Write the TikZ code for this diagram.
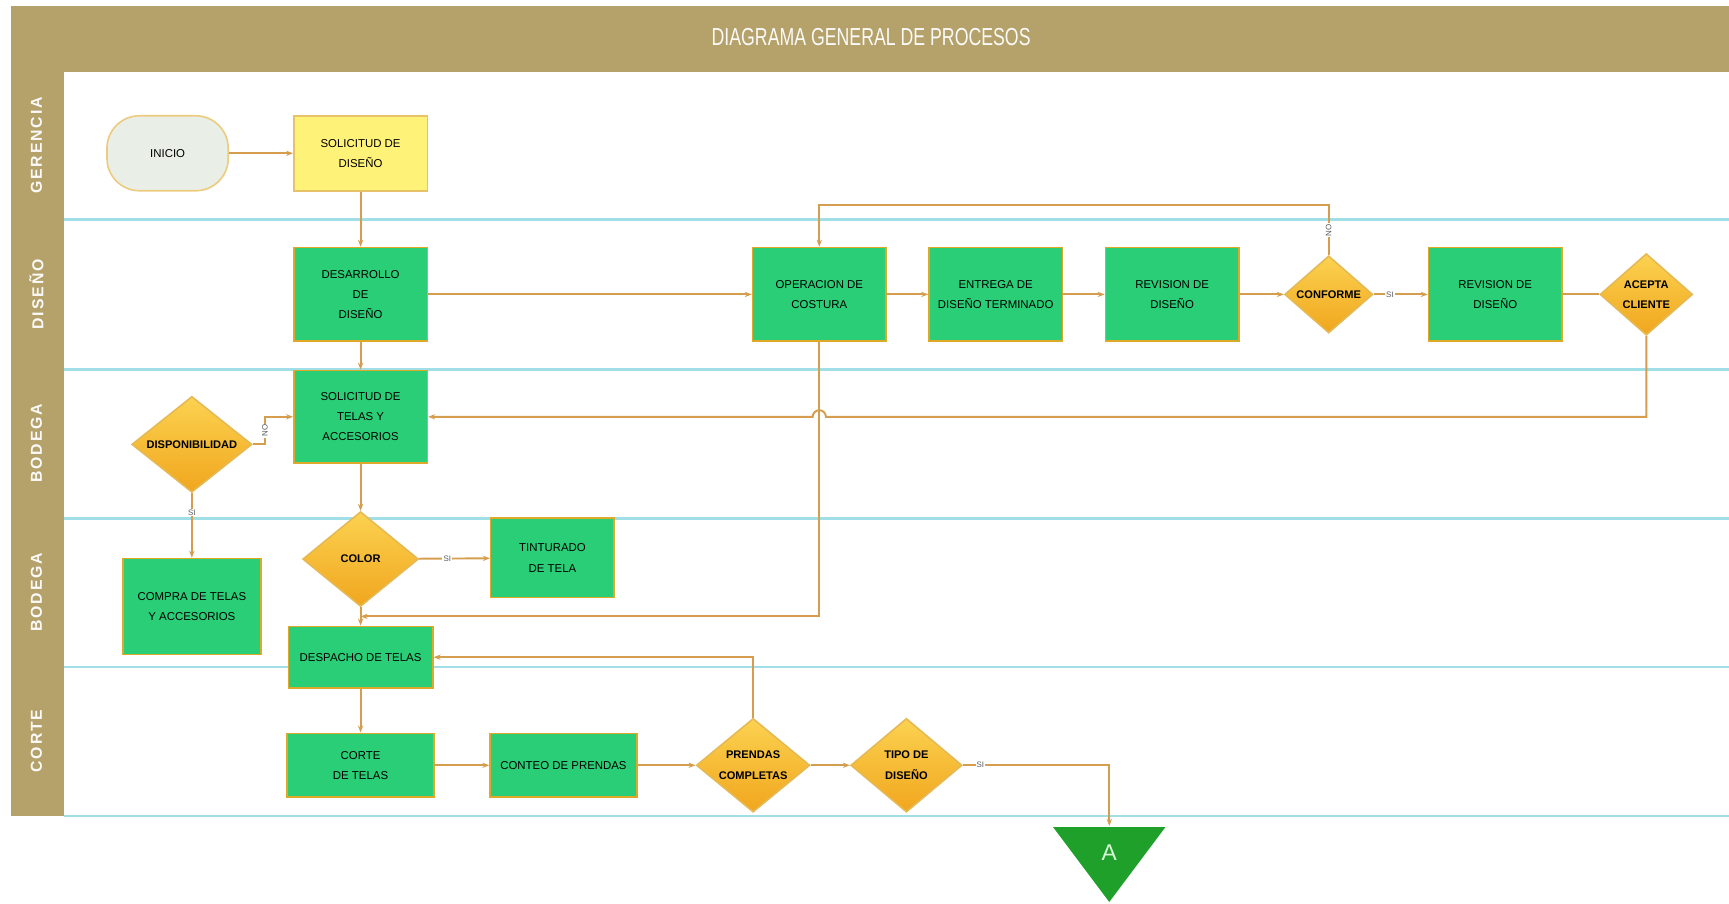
\documentclass[tikz,border=0pt]{standalone}
\usepackage{fontspec}
\setmainfont{Liberation Sans}
\usetikzlibrary{arrows.meta,shapes.geometric,calc}
\definecolor{banda}{RGB}{181,161,106}
\definecolor{linea}{RGB}{160,222,232}
\definecolor{verde}{RGB}{42,206,118}
\definecolor{borde}{RGB}{222,168,40}
\definecolor{amarillo}{RGB}{255,242,120}
\definecolor{gris}{RGB}{233,239,230}
\definecolor{rombotop}{RGB}{251,210,80}
\definecolor{rombobot}{RGB}{241,166,30}
\definecolor{conector}{RGB}{212,158,78}
\definecolor{verdeA}{RGB}{30,160,42}
\newcommand{\dpx}{0.22054mm}

\begin{document}
\begin{tikzpicture}[x=0.22054mm, y=-0.22054mm,
    tam/.style 2 args={minimum width=#1*\dpx, minimum height=#2*\dpx},
    proc/.style={draw=borde, line width=0.9pt, fill=verde, align=center, inner sep=1pt, font=\fontsize{6.5}{11.5}\selectfont},
    solic/.style={proc, fill=amarillo, draw=borde!70},
    term/.style={proc, fill=gris, draw=borde!60, rounded corners=6.5mm},
    dec/.style={diamond, draw=borde!80, line width=0.9pt, top color=rombotop, bottom color=rombobot, shape aspect=1.5, inner sep=0pt, align=center, font=\fontsize{6.3}{11.5}\selectfont\bfseries},
    carril/.style={rotate=90, text=white!95!banda, font=\fontsize{9}{9}\selectfont\bfseries\addfontfeature{LetterSpace=12}},
    lbl/.style={fill=white, inner sep=0.6pt, text=black!65, font=\fontsize{4.5}{5}\selectfont},
    con/.style={draw=conector, line width=1.1pt, -{Stealth[length=4pt, width=3pt]}},
    lin/.style={draw=conector, line width=1.1pt}
]
\useasboundingbox (0,0) rectangle (1568,819);
\fill[banda] (10,5) rectangle (1568,65);
\fill[banda] (10,65) rectangle (58,740);
\foreach \y in {199,335,470,605,740}
    \draw[linea, line width=1.5pt] (58,\y) -- (1568,\y);

\node[text=white!95!banda, font=\fontsize{14}{14}\selectfont] (titulo) at (790,34) {\scalebox{0.72}[1]{DIAGRAMA GENERAL DE PROCESOS}};
\node[carril] (lgerencia) at (33,132) {GERENCIA};
\node[carril] (ldiseno) at (33,267) {DISEÑO};
\node[carril] (lbodega) at (33,402) {BODEGA};
\node[carril] (lbodega2) at (33,537) {BODEGA};
\node[carril] (lcorte) at (33,672) {CORTE};

\node[term, tam={110}{68}] (inicio) at (152,139) {INICIO};
\node[solic, tam={121}{68}] (soldis) at (327,139) {SOLICITUD DE\\DISEÑO};
\node[proc, tam={121}{85}] (desa) at (327,267) {DESARROLLO\\DE\\DISEÑO};
\node[proc, tam={121}{85}] (oper) at (743,267) {OPERACION DE\\COSTURA};
\node[proc, tam={121}{85}] (entr) at (903,267) {ENTREGA DE\\DISEÑO TERMINADO};
\node[proc, tam={121}{85}] (rev1) at (1063,267) {REVISION DE\\DISEÑO};
\node[dec, tam={80}{70}] (conf) at (1205,267) {CONFORME};
\node[proc, tam={121}{85}] (rev2) at (1356,267) {REVISION DE\\DISEÑO};
\node[dec, tam={84}{74}] (acep) at (1493,267) {ACEPTA\\CLIENTE};
\node[proc, tam={121}{84}] (soltel) at (327,378) {SOLICITUD DE\\TELAS Y\\ACCESORIOS};
\node[dec, tam={109}{87}] (disp) at (174,403) {DISPONIBILIDAD};
\node[dec, tam={105}{86}] (color) at (327,507) {COLOR};
\node[proc, tam={112}{72}] (tint) at (501,506) {TINTURADO\\DE TELA};
\node[proc, tam={125}{87}] (compra) at (174,550) {COMPRA DE TELAS\\Y ACCESORIOS};
\node[proc, tam={131}{56}] (desp) at (327,596) {DESPACHO DE TELAS};
\node[proc, tam={133}{58}] (corte) at (327,694) {CORTE\\DE TELAS};
\node[proc, tam={133}{58}] (conteo) at (511,694) {CONTEO DE PRENDAS};
\node[dec, tam={103}{85}] (prend) at (683,694) {PRENDAS\\COMPLETAS};
\node[dec, tam={101}{85}] (tipo) at (822,694) {TIPO DE\\DISEÑO};

\fill[verdeA] (955,750) -- (1057,750) -- (1006,818) -- cycle;
\node[text=green!15, font=\fontsize{13}{13}\selectfont] (conA) at (1006,773) {A};
\coordinate (atop) at (1006,749);
\coordinate (jn) at ($(color.south)!0.5!(desp.north)$);

\draw[con] (inicio) -- (soldis);
\draw[con] (soldis) -- (desa);
\draw[con] (desa) -- (oper);
\draw[con] (desa) -- (soltel);
\draw[con] (oper) -- (entr);
\draw[con] (entr) -- (rev1);
\draw[con] (rev1) -- (conf);
\draw[con] (conf) -- node[lbl, pos=0.3] {SI} (rev2);
\draw[lin] (rev2) -- (acep);
\draw[con] (conf.north) -- ++(0,-45) node[lbl, midway, rotate=90] {NO} -| (oper.north);
\draw[con] (acep.south) |- ($(oper.south |- soltel.east)+(6,0)$) arc[start angle=0, end angle=-180, radius=6] -- (soltel.east);
\draw[con] (oper.south) |- (jn);
\draw[con] (soltel) -- (color);
\draw[con] (disp.east) -- ++(11,0) |- node[lbl, pos=0.25, rotate=90] {NO} (soltel.west);
\draw[con] (disp) -- node[lbl, pos=0.3] {SI} (compra);
\draw[con] (color) -- node[lbl, pos=0.4] {SI} (tint);
\draw[con] (color) -- (desp);
\draw[con] (desp) -- (corte);
\draw[con] (corte) -- (conteo);
\draw[con] (conteo) -- (prend);
\draw[con] (prend) -- (tipo);
\draw[con] (prend.north) |- (desp.east);
\draw[con] (tipo.east) -| node[lbl, pos=0.06] {SI} (atop);
\end{tikzpicture}
\end{document}
